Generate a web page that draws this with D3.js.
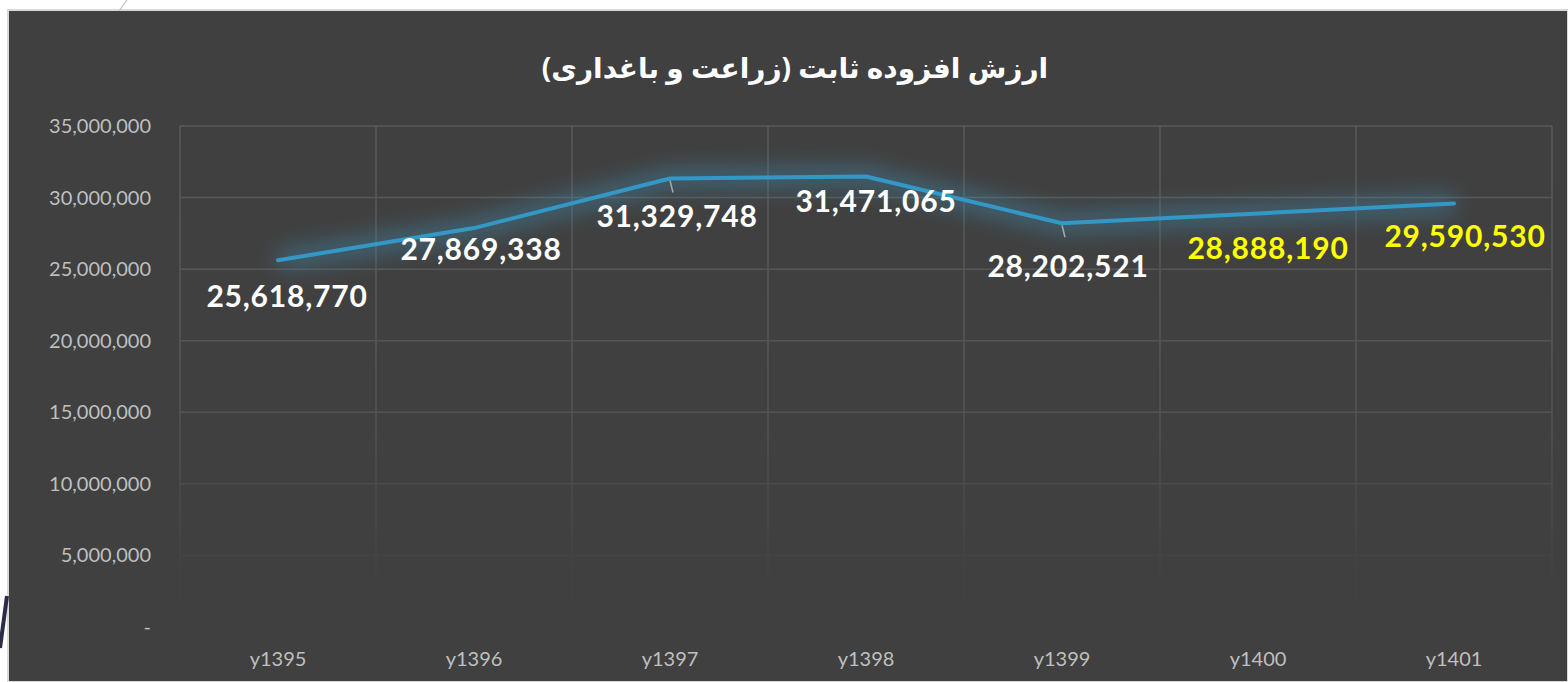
<!DOCTYPE html>
<html>
<head>
<meta charset="utf-8">
<script src="https://cdn.jsdelivr.net/npm/d3@7"></script>
<style>
  body { margin: 0; background: #ffffff; }
  svg { display: block; }
</style>
</head>
<body>
<div id="chart"></div>
<script>
// values
var categories = ['y1395', 'y1396', 'y1397', 'y1398', 'y1399', 'y1400', 'y1401'];
var values = [25618770, 27869338, 31329748, 31471065, 28202521, 28888190, 29590530];
var yTicks = [0, 5000000, 10000000, 15000000, 20000000, 25000000, 30000000, 35000000];
// forecast years are labelled in yellow
var highlighted = ['y1400', 'y1401'];
// label offsets from the point (dx, dy), as placed in the original
var labelOffsets = [[9, 36], [7, 21], [7, 38], [10, 25], [6, 43], [10, 35], [11, 33]];

var W = 1568, H = 682;
var margin = { top: 126, right: 16, bottom: 55, left: 180 };

var svg = d3.select('#chart').append('svg')
    .attr('width', W)
    .attr('height', H);

var defs = svg.append('defs');

// grid fades out toward the bottom
var grad = defs.append('linearGradient')
    .attr('id', 'gridFade')
    .attr('gradientUnits', 'userSpaceOnUse')
    .attr('x1', 0).attr('x2', 0)
    .attr('y1', margin.top).attr('y2', H - margin.bottom);
grad.append('stop').attr('offset', '0%').attr('stop-color', '#5a5a5a');
grad.append('stop').attr('offset', '55%').attr('stop-color', '#555555');
grad.append('stop').attr('offset', '90%').attr('stop-color', '#424242');
grad.append('stop').attr('offset', '100%').attr('stop-color', '#404040');

var glow = defs.append('filter')
    .attr('id', 'glow')
    .attr('x', '-20%').attr('y', '-100%')
    .attr('width', '140%').attr('height', '300%');
glow.append('feGaussianBlur').attr('in', 'SourceGraphic').attr('stdDeviation', 11).attr('result', 'blur');
glow.append('feComponentTransfer').attr('in', 'blur').attr('result', 'soft')
    .append('feFuncA').attr('type', 'linear').attr('slope', 0.45);
var merge = glow.append('feMerge');
merge.append('feMergeNode').attr('in', 'soft');

// background panel
svg.append('rect')
    .attr('x', 8).attr('y', 10)
    .attr('width', W - 8).attr('height', H - 10)
    .attr('fill', '#404040')
    .attr('stroke', '#d9d9d9')
    .attr('stroke-width', 2);

// slide decorations peeking around the panel
svg.append('path').attr('d', 'M127,0 L119,11').attr('stroke', '#bfbfbf').attr('stroke-width', 1.2);
svg.append('path').attr('d', 'M0,648 L7,596').attr('stroke', '#2c2c4a').attr('stroke-width', 4);

var x = d3.scaleBand()
    .domain(categories)
    .range([margin.left, W - margin.right])
    .paddingInner(0).paddingOuter(0);

var y = d3.scaleLinear()
    .domain([0, 35000000])
    .range([H - margin.bottom, margin.top]);

var grid = svg.append('g');

grid.selectAll('line.h')
    .data(yTicks.filter(function (d) { return d > 0; }))
    .enter().append('line')
    .attr('class', 'h')
    .attr('x1', margin.left).attr('x2', W - margin.right)
    .attr('y1', function (d) { return y(d); })
    .attr('y2', function (d) { return y(d) + 0.01; })
    .attr('stroke', 'url(#gridFade)')
    .attr('stroke-width', 1.5);

var vx = categories.map(function (c) { return x(c); }).concat([W - margin.right]);
grid.selectAll('line.v')
    .data(vx)
    .enter().append('line')
    .attr('class', 'v')
    .attr('x1', function (d) { return d; })
    .attr('x2', function (d) { return d + 0.01; })
    .attr('y1', margin.top).attr('y2', H - margin.bottom)
    .attr('stroke', 'url(#gridFade)')
    .attr('stroke-width', 1.5);

// y axis labels
var fmt = d3.format(',');
svg.append('g').selectAll('text')
    .data(yTicks)
    .enter().append('text')
    .attr('x', 151)
    .attr('y', function (d) { return y(d); })
    .attr('dy', '0.35em')
    .attr('text-anchor', 'end')
    .attr('fill', '#bfbfbf')
    .style('font-family', 'Lato, "Open Sans", sans-serif')
    .style('font-size', '20px')
    .text(function (d) { return d === 0 ? '-' : fmt(d); });

// x axis labels
svg.append('g').selectAll('text')
    .data(categories)
    .enter().append('text')
    .attr('x', function (d) { return x(d) + x.bandwidth() / 2; })
    .attr('y', 666)
    .attr('text-anchor', 'middle')
    .attr('fill', '#bfbfbf')
    .style('font-family', 'Lato, "Open Sans", sans-serif')
    .style('font-size', '20px')
    .text(function (d) { return d; });

var pts = categories.map(function (c, i) {
    return { cat: c, v: values[i], x: x(c) + x.bandwidth() / 2, y: y(values[i]), i: i };
});

var line = d3.line()
    .x(function (d) { return d.x; })
    .y(function (d) { return d.y; });

svg.append('path')
    .datum(pts)
    .attr('d', line)
    .attr('fill', 'none')
    .attr('stroke', '#3f9cc8')
    .attr('stroke-width', 18)
    .attr('stroke-linejoin', 'round')
    .attr('filter', 'url(#glow)');

svg.append('path')
    .datum(pts)
    .attr('d', line)
    .attr('fill', 'none')
    .attr('stroke', '#3398c6')
    .attr('stroke-width', 4)
    .attr('stroke-linejoin', 'round')
    .attr('stroke-linecap', 'round');

// leader lines for labels pushed away from their point
[2, 4].forEach(function (i) {
    var p = pts[i];
    svg.append('line')
        .attr('x1', p.x).attr('y1', p.y + 2)
        .attr('x2', p.x + 3).attr('y2', p.y + 14)
        .attr('stroke', '#a6a6a6')
        .attr('stroke-width', 1.5);
});

svg.append('g').selectAll('text')
    .data(pts)
    .enter().append('text')
    .attr('x', function (d) { return d.x + labelOffsets[d.i][0]; })
    .attr('y', function (d) { return d.y + labelOffsets[d.i][1]; })
    .attr('dy', '0.35em')
    .attr('text-anchor', 'middle')
    .attr('fill', function (d) { return highlighted.indexOf(d.cat) >= 0 ? '#ffff00' : '#ffffff'; })
    .style('font-family', 'Lato, "Open Sans", sans-serif')
    .style('font-weight', 'bold')
    .style('font-size', '30px')
    .style('letter-spacing', '0.8px')
    .text(function (d) { return fmt(d.v); });

// title
svg.append('text')
    .attr('x', 795)
    .attr('y', 68)
    .attr('dy', '0.35em')
    .attr('text-anchor', 'middle')
    .attr('direction', 'rtl')
    .attr('fill', '#ffffff')
    .style('font-family', '"Noto Sans", "DejaVu Sans", sans-serif')
    .style('font-weight', 'bold')
    .style('font-size', '28px')
    .text('ارزش افزوده ثابت (زراعت و باغداری)');
</script>
</body>
</html>
